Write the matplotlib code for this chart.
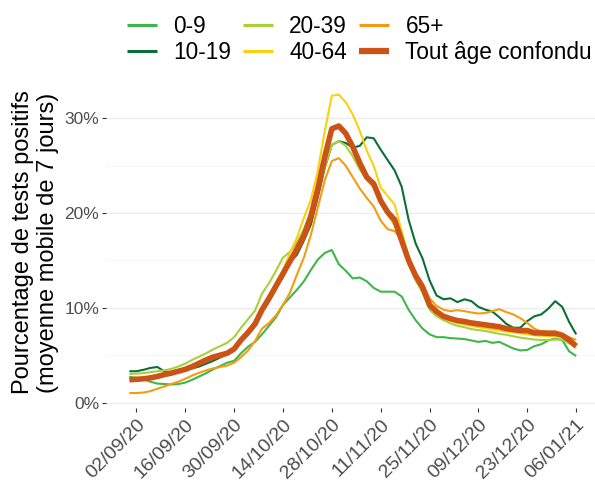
import numpy as np
import pandas as pd
import matplotlib
matplotlib.use("Agg")
import matplotlib.pyplot as plt
from matplotlib.ticker import FuncFormatter, MultipleLocator

plt.rcParams['font.family'] = ['Liberation Sans', 'DejaVu Sans']

# one value every 2 days, from 31/08/20 to 06/01/21 (percent)
dates = pd.date_range("2020-08-31", "2021-01-06", freq="2D")

age_0_9 = [2.7, 2.6, 2.45, 2.2, 2.0, 1.95, 1.9, 1.95, 2.1, 2.4, 2.75, 3.1, 3.5, 3.85, 4.2, 4.4,
           5.2, 5.9, 6.4, 7.2, 8.1, 9.0, 10.3, 11.1, 11.9, 12.8, 14.0, 15.1, 15.8, 16.1, 14.6, 13.9,
           13.1, 13.2, 12.8, 12.1, 11.7, 11.7, 11.7, 11.2, 9.8, 8.7, 7.8, 7.2, 6.9, 6.9, 6.8, 6.75,
           6.7, 6.55, 6.4, 6.5, 6.3, 6.4, 6.05, 5.7, 5.5, 5.55, 5.95, 6.15, 6.55, 6.75, 6.6, 5.4, 4.9]
age_10_19 = [3.3, 3.3, 3.45, 3.65, 3.75, 3.3, 3.2, 3.3, 3.4, 3.6, 3.8, 4.1, 4.4, 4.75, 5.1, 5.8,
             6.5, 7.2, 8.2, 9.5, 10.7, 12.0, 13.3, 14.8, 15.6, 17.1, 18.8, 21.7, 24.8, 27.2, 27.6, 27.4,
             26.9, 27.1, 28.0, 27.9, 26.7, 25.6, 24.5, 22.8, 19.3, 16.8, 15.2, 12.9, 11.3, 10.9, 11.0, 10.6,
             10.9, 10.7, 10.1, 9.8, 9.6, 9.0, 8.3, 7.9, 7.9, 8.6, 9.1, 9.3, 9.9, 10.7, 10.1, 8.5, 7.2]
age_20_39 = [3.0, 3.05, 3.1, 3.2, 3.3, 3.4, 3.55, 3.8, 4.1, 4.5, 4.85, 5.2, 5.6, 5.95, 6.3, 6.9,
             7.9, 8.8, 9.7, 11.5, 12.6, 13.9, 15.3, 15.9, 16.9, 18.3, 20.1, 22.2, 24.9, 27.2, 27.6, 27.1,
             26.0, 24.6, 23.5, 22.7, 21.0, 19.8, 18.7, 16.8, 14.6, 12.9, 11.6, 9.8, 9.1, 8.7, 8.35, 8.1,
             7.95, 7.75, 7.65, 7.55, 7.4, 7.25, 7.15, 7.0, 6.85, 6.75, 6.65, 6.6, 6.6, 6.65, 6.65, 6.25, 5.85]
age_40_64 = [2.5, 2.55, 2.6, 2.7, 2.85, 3.0, 3.15, 3.35, 3.55, 3.85, 4.2, 4.55, 4.85, 5.05, 5.3, 5.75,
             6.7, 7.5, 8.4, 9.9, 11.2, 12.6, 14.0, 15.8, 17.4, 19.5, 21.4, 24.5, 28.7, 32.4, 32.5, 31.7,
             30.4, 28.7, 26.6, 25.0, 22.7, 21.8, 20.9, 18.1, 15.4, 13.4, 12.0, 10.2, 9.4, 8.95, 8.6, 8.4,
             8.25, 8.1, 7.95, 7.85, 7.7, 7.6, 7.5, 7.4, 7.3, 7.2, 7.1, 7.05, 7.0, 7.0, 7.0, 6.5, 5.7]
age_65 = [1.0, 1.0, 1.05, 1.2, 1.45, 1.7, 1.95, 2.2, 2.5, 2.85, 3.15, 3.4, 3.6, 3.75, 3.9, 4.2,
          4.8, 5.5, 6.5, 7.8, 8.4, 9.2, 10.3, 11.6, 13.5, 15.3, 17.7, 20.6, 23.5, 25.5, 25.8, 25.0,
          23.8, 22.6, 21.6, 20.7, 19.2, 18.3, 18.1, 17.2, 15.3, 13.7, 12.5, 11.0, 10.2, 9.8, 9.65, 9.75,
          9.65, 9.5, 9.4, 9.45, 9.65, 9.85, 9.55, 9.3, 8.9, 8.4, 7.8, 7.5, 7.5, 7.5, 7.25, 6.9, 6.6]
all_ages = [2.4, 2.45, 2.5, 2.6, 2.75, 2.95, 3.1, 3.3, 3.5, 3.8, 4.15, 4.5, 4.8, 5.0, 5.2, 5.65,
            6.6, 7.4, 8.3, 9.8, 11.0, 12.3, 13.6, 14.9, 16.2, 17.6, 19.7, 22.6, 26.0, 28.9, 29.2, 28.4,
            27.0, 25.3, 23.8, 23.1, 21.3, 20.1, 19.3, 17.1, 15.0, 13.4, 12.2, 10.3, 9.6, 9.1, 8.85, 8.65,
            8.55, 8.4, 8.3, 8.2, 8.1, 8.0, 7.8, 7.7, 7.6, 7.6, 7.35, 7.35, 7.3, 7.3, 7.1, 6.6, 5.95]

labels = ["0-9", "10-19", "20-39", "40-64", "65+", "Tout âge confondu"]
colors = ["#3fb64b", "#0b6f35", "#a8d03a", "#f9d10c", "#f39c12", "#cc5216"]
series = [age_0_9, age_10_19, age_20_39, age_40_64, age_65, all_ages]

fig = plt.figure(figsize=(5.95, 4.83), dpi=100)
ax = fig.add_axes([106 / 595, 75 / 483, 489 / 595, 331 / 483])

lines = []
for lab, col, vals in zip(labels, colors, series):
    lw = 4.0 if lab == "Tout âge confondu" else 1.5
    ln, = ax.plot(dates, np.array(vals) / 100, color=col, lw=lw, label=lab,
                  solid_capstyle="butt")
    lines.append(ln)

start = pd.Timestamp("2020-08-31")
ax.set_xlim(start - pd.Timedelta(days=6.7), start + pd.Timedelta(days=133.4))
ax.set_ylim(-0.0058, 0.3437)

ticks = pd.date_range("2020-09-02", "2021-01-06", freq="14D")
ax.set_xticks(ticks)
ax.set_xticklabels([t.strftime("%d/%m/%y") for t in ticks], rotation=45, ha="right",
                   rotation_mode="anchor", fontsize=14, color="#4d4d4d")
ax.yaxis.set_major_locator(MultipleLocator(0.10))
ax.yaxis.set_minor_locator(MultipleLocator(0.05))
ax.yaxis.set_major_formatter(FuncFormatter(lambda v, p: f"{v * 100:.0f}%"))
ax.tick_params(axis="y", which="major", labelsize=12.5, labelcolor="#4d4d4d", length=3,
               width=0.8, color="#333333", pad=2)
ax.tick_params(axis="y", which="minor", length=0)
ax.tick_params(axis="x", length=3, width=0.8, color="#333333", pad=3)

ax.grid(axis="y", which="major", color="#ebebeb", lw=1.0)
ax.grid(axis="y", which="minor", color="#f5f5f5", lw=0.8)
ax.set_axisbelow(True)
for s in ax.spines.values():
    s.set_visible(False)

ax.set_ylabel("Pourcentage de tests positifs\n(moyenne mobile de 7 jours)",
              fontsize=17, linespacing=1.15, labelpad=4)

leg = fig.legend(handles=lines, loc="upper left", bbox_to_anchor=(127 / 595, 1 - 15 / 483),
                 ncol=3, frameon=False, fontsize=16.3, handlelength=1.33,
                 handletextpad=0.71, columnspacing=0.53, labelspacing=0.15, borderpad=0,
                 borderaxespad=0)
for h in leg.legend_handles:
    h.set_linewidth(4.5 if h.get_label() == "Tout âge confondu" else 2.2)

fig.savefig("out.png", dpi=100)
